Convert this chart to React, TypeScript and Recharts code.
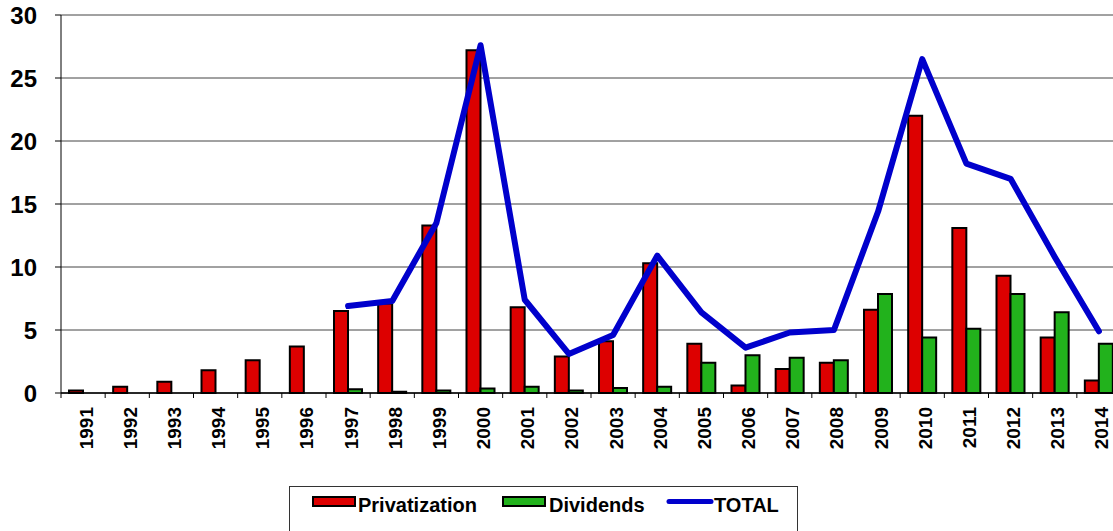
import { ComposedChart, Bar, Line, XAxis, YAxis, CartesianGrid } from "recharts"

// values (billions)
const years = [
    "1991", "1992", "1993", "1994", "1995", "1996", "1997", "1998", "1999", "2000", "2001", "2002",
    "2003", "2004", "2005", "2006", "2007", "2008", "2009", "2010", "2011", "2012", "2013", "2014"
];
const privatization = [
    0.2, 0.5, 0.9, 1.8, 2.6, 3.7, 6.5, 7.1, 13.3, 27.2, 6.8, 2.9,
    4.1, 10.3, 3.9, 0.6, 1.9, 2.4, 6.6, 22.0, 13.1, 9.3, 4.4, 1.0
];
const dividends = [
    0, 0, 0, 0, 0, 0, 0.3, 0.1, 0.2, 0.35, 0.5, 0.2,
    0.4, 0.5, 2.4, 3.0, 2.8, 2.6, 7.85, 4.4, 5.1, 7.85, 6.4, 3.9
];
const total = [
    null, null, null, null, null, null, 6.9, 7.3, 13.5, 27.6, 7.4, 3.1,
    4.6, 10.9, 6.4, 3.6, 4.8, 5.0, 14.4, 26.5, 18.2, 17.0, 10.8, 4.9
];
const yTicks = [0, 5, 10, 15, 20, 25, 30];

const data = years.map((year, i) => ({
    year,
    privatization: privatization[i],
    dividends: dividends[i],
    total: total[i]
}));

const FONT = "'Liberation Sans', Arial, sans-serif";
const PLOT_W = 1060;
const BAND = PLOT_W / years.length;

const RED = "#DD0000";
const GREEN = "#22B21C";
const BLUE = "#0000CC";

function YearTick(props: any) {
    const { x, y, payload } = props;
    const left = x - BAND / 2;
    return (
        <g>
            <line x1={left} y1={y} x2={left} y2={y + 5} stroke="#000" strokeWidth={1} />
            <text
                transform={`translate(${x + 9.5}, ${y + 14}) rotate(-90)`}
                textAnchor="end"
                fontFamily={FONT}
                fontWeight="bold"
                fontSize={19}
                fill="#000"
            >
                {payload.value}
            </text>
        </g>
    );
}

function LegendBox() {
    return (
        <svg
            width={1113}
            height={531}
            style={{ position: "absolute", left: 0, top: 0, pointerEvents: "none" }}
        >
            <rect x={289.5} y={486.5} width={508} height={60} fill="#fff" stroke="#333" strokeWidth={1} />
            <rect x={313} y={497} width={42} height={9} fill={RED} stroke="#000" strokeWidth={2} />
            <text x={358} y={512} fontFamily={FONT} fontWeight="bold" fontSize={20} fill="#000">Privatization</text>
            <rect x={503} y={497} width={42} height={9} fill={GREEN} stroke="#000" strokeWidth={2} />
            <text x={549} y={512} fontFamily={FONT} fontWeight="bold" fontSize={20} fill="#000">Dividends</text>
            <line x1={669} y1={501.5} x2={711} y2={501.5} stroke={BLUE} strokeWidth={5} strokeLinecap="round" />
            <text x={714} y={512} fontFamily={FONT} fontWeight="bold" fontSize={20} fill="#000">TOTAL</text>
        </svg>
    );
}

export default function App() {
    return (
        <div style={{ position: "absolute", left: 0, top: 0, width: 1113, height: 531, overflow: "hidden", background: "#fff" }}>
            <ComposedChart
                width={1140}
                height={531}
                data={data}
                margin={{ top: 15, right: 19, left: 0, bottom: 0 }}
                barCategoryGap={8}
                barGap={0}
            >
                <CartesianGrid vertical={false} stroke="#444" strokeWidth={1} />
                <XAxis
                    dataKey="year"
                    height={138}
                    interval={0}
                    tickLine={false}
                    tickSize={0}
                    tickMargin={0}
                    axisLine={{ stroke: "#000", strokeWidth: 1.5 }}
                    tick={<YearTick />}
                />
                <YAxis
                    width={61}
                    domain={[0, 30]}
                    ticks={yTicks}
                    interval={0}
                    tickSize={6}
                    tickMargin={18}
                    axisLine={{ stroke: "#000", strokeWidth: 1 }}
                    tickLine={{ stroke: "#000" }}
                    tick={{ fontFamily: FONT, fontWeight: "bold", fontSize: 24, fill: "#000" }}
                />
                <Bar dataKey="privatization" fill={RED} stroke="#000" strokeWidth={2} isAnimationActive={false} />
                <Bar dataKey="dividends" fill={GREEN} stroke="#000" strokeWidth={2} isAnimationActive={false} />
                <Line
                    dataKey="total"
                    stroke={BLUE}
                    strokeWidth={6}
                    strokeLinecap="round"
                    strokeLinejoin="round"
                    dot={false}
                    activeDot={false}
                    connectNulls={false}
                    isAnimationActive={false}
                />
            </ComposedChart>
            <LegendBox />
        </div>
    );
}
